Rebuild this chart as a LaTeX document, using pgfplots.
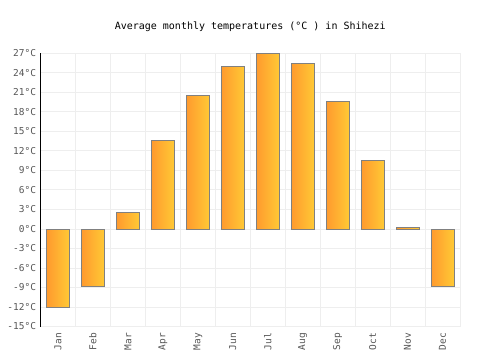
\documentclass[border=0pt]{standalone}
\usepackage{pgfplots}
\pgfplotsset{compat=1.18}
\usepackage{fontspec}
\setmainfont{DejaVu Sans Mono}
\definecolor{gridc}{HTML}{EEEEEE}
\definecolor{barL}{HTML}{FF9A2E}
\definecolor{barR}{HTML}{FFC935}
\definecolor{barE}{HTML}{808080}
\definecolor{tickc}{HTML}{555555}
\pgfplotsset{mybar/.style={draw=barE, line width=1bp, left color=barL, right color=barR}}
\begin{document}
\begin{tikzpicture}
\begin{axis}[
  at={(0,0)}, anchor=south west,
  scale only axis, width=419.5bp, height=273bp,
  xmin=-0.5, xmax=11.5, ymin=-15, ymax=27,
  axis lines*=left,
  x axis line style={draw=none},
  y axis line style={black, line width=1bp, -},
  xtick={0,...,11},
  xticklabels={Jan,Feb,Mar,Apr,May,Jun,Jul,Aug,Sep,Oct,Nov,Dec},
  x tick label style={rotate=90, anchor=east, font=\fontsize{9.5bp}{10bp}\selectfont, text=tickc},
  ytick={-15,-12,...,27},
  yticklabel={\pgfmathprintnumber{\tick}°C},
  y tick label style={font=\fontsize{9.5bp}{10bp}\selectfont, text=tickc},
  /pgf/number format/assume math mode=true,
  major tick length=0pt, minor tick length=0pt,
  minor xtick={-0.5,0.5,...,11.5},
  xminorgrids, ymajorgrids,
  minor x grid style={gridc, line width=1bp},
  major y grid style={gridc, line width=1bp},
  extra y ticks={0}, extra y tick labels={},
  extra y tick style={grid=major, major grid style={black, line width=1bp}},
  xtick pos=bottom, ytick pos=left,
  xticklabel shift=3bp, yticklabel shift=1bp,
  ybar, bar width=23bp, bar shift=0pt,
  clip=false,
]
\addplot[mybar] coordinates {(0,-12.1)};
\addplot[mybar] coordinates {(1,-8.9)};
\addplot[mybar] coordinates {(2,2.5)};
\addplot[mybar] coordinates {(3,13.6)};
\addplot[mybar] coordinates {(4,20.5)};
\addplot[mybar] coordinates {(5,25.0)};
\addplot[mybar] coordinates {(6,27.0)};
\addplot[mybar] coordinates {(7,25.4)};
\addplot[mybar] coordinates {(8,19.6)};
\addplot[mybar] coordinates {(9,10.5)};
\addplot[mybar] coordinates {(10,0.3)};
\addplot[mybar] coordinates {(11,-8.9)};
\node[font=\fontsize{10bp}{12bp}\selectfont] at (rel axis cs:0.5,1) [yshift=26.5bp] {Average monthly temperatures (°C ) in Shihezi};
\end{axis}
\path[use as bounding box] (-40.5bp,-23.5bp) rectangle (459.5bp,326.5bp);
\end{tikzpicture}
\end{document}
